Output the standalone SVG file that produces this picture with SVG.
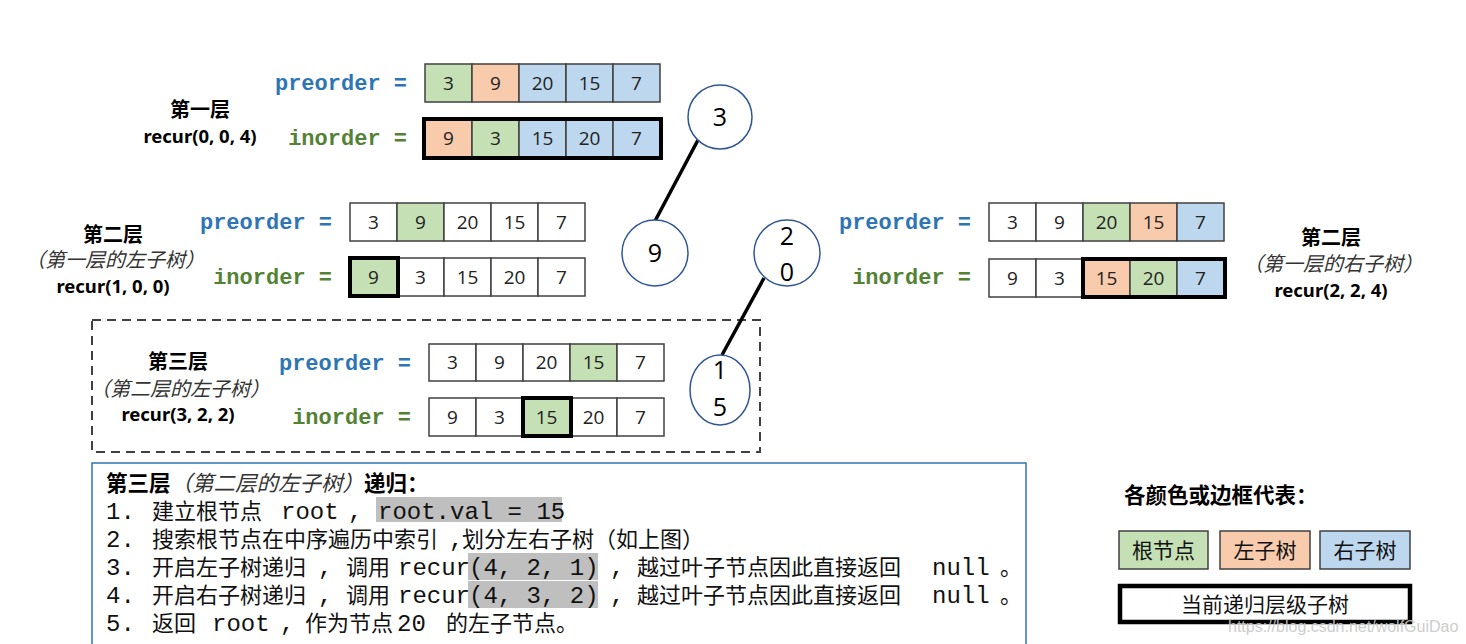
<svg xmlns="http://www.w3.org/2000/svg" width="1466" height="644" viewBox="0 0 1466 644">
<style>
.c{stroke:#404040;stroke-width:1.5}
.g{fill:#c5e0b4}.o{fill:#f8cbad}.b{fill:#bdd7ee}.w{fill:#ffffff}
.cv{font-family:"Open Sans","Noto Sans",sans-serif;font-size:19px;fill:#222;text-anchor:middle}
.thick{fill:none;stroke:#000;stroke-width:4}
.pre{font-family:"Liberation Mono",monospace;font-weight:bold;font-size:22px;fill:#2e75b6;text-anchor:end}
.ino{font-family:"Liberation Mono",monospace;font-weight:bold;font-size:22px;fill:#548235;text-anchor:end}
.lvl{font-family:"Noto Sans CJK SC",sans-serif;font-weight:bold;font-size:20px;fill:#000;text-anchor:middle}
.sub{font-family:"Noto Sans CJK SC",sans-serif;font-style:italic;font-size:20px;fill:#333;text-anchor:middle}
.rec{font-family:"Noto Sans","Noto Sans CJK SC",sans-serif;font-weight:bold;font-size:18.5px;fill:#000;text-anchor:middle}
.node{fill:#fff;stroke:#2f5597;stroke-width:1.5}
.nt{font-family:"Open Sans","Noto Sans",sans-serif;font-size:25px;fill:#000;text-anchor:middle}
.edge{stroke:#000;stroke-width:3.5;fill:none}
.mono{font-family:"Liberation Mono","Noto Sans CJK SC",monospace;font-size:24px;fill:#111}
.cj{font-family:"Noto Sans CJK SC",sans-serif;font-size:22px}
.hl{fill:#bfbfbf}
.leg{font-family:"Noto Sans CJK SC",sans-serif;font-size:21px;fill:#111;text-anchor:middle}
</style>

<!-- Layer 1 -->
<g id="layer1">
<text class="pre" x="407" y="90">preorder =</text>
<text class="ino" x="407" y="145">inorder =</text>
<text class="lvl" x="200" y="117">第一层</text>
<text class="rec" x="200" y="143">recur(0, 0, 4)</text>
<rect class="c g" x="425" y="64" width="47" height="38"/><rect class="c o" x="472" y="64" width="47" height="38"/><rect class="c b" x="519" y="64" width="47" height="38"/><rect class="c b" x="566" y="64" width="47" height="38"/><rect class="c b" x="613" y="64" width="47" height="38"/>
<text class="cv" x="448.5" y="90">3</text><text class="cv" x="495.5" y="90">9</text><text class="cv" x="542.5" y="90">20</text><text class="cv" x="589.5" y="90">15</text><text class="cv" x="636.5" y="90">7</text>
<rect class="c o" x="425" y="120" width="47" height="37"/><rect class="c g" x="472" y="120" width="47" height="37"/><rect class="c b" x="519" y="120" width="47" height="37"/><rect class="c b" x="566" y="120" width="47" height="37"/><rect class="c b" x="613" y="120" width="47" height="37"/>
<text class="cv" x="448.5" y="145">9</text><text class="cv" x="495.5" y="145">3</text><text class="cv" x="542.5" y="145">15</text><text class="cv" x="589.5" y="145">20</text><text class="cv" x="636.5" y="145">7</text>
<rect class="thick" x="424" y="119" width="237" height="39"/>
</g>

<!-- Layer 2 left -->
<g id="layer2-left">
<text class="pre" x="332" y="229">preorder =</text>
<text class="ino" x="332" y="284">inorder =</text>
<text class="lvl" x="113" y="242">第二层</text>
<text class="sub" x="115" y="267">（第一层的左子树）</text>
<text class="rec" x="113" y="293">recur(1, 0, 0)</text>
<rect class="c w" x="350" y="203" width="47" height="38"/><rect class="c g" x="397" y="203" width="47" height="38"/><rect class="c w" x="444" y="203" width="47" height="38"/><rect class="c w" x="491" y="203" width="47" height="38"/><rect class="c w" x="538" y="203" width="47" height="38"/>
<text class="cv" x="373.5" y="229">3</text><text class="cv" x="420.5" y="229">9</text><text class="cv" x="467.5" y="229">20</text><text class="cv" x="514.5" y="229">15</text><text class="cv" x="561.5" y="229">7</text>
<rect class="c g" x="350" y="258" width="47" height="38"/><rect class="c w" x="397" y="258" width="47" height="38"/><rect class="c w" x="444" y="258" width="47" height="38"/><rect class="c w" x="491" y="258" width="47" height="38"/><rect class="c w" x="538" y="258" width="47" height="38"/>
<text class="cv" x="373.5" y="284">9</text><text class="cv" x="420.5" y="284">3</text><text class="cv" x="467.5" y="284">15</text><text class="cv" x="514.5" y="284">20</text><text class="cv" x="561.5" y="284">7</text>
<rect class="thick" x="350" y="258" width="48" height="38"/>
</g>

<!-- Layer 2 right -->
<g id="layer2-right">
<text class="pre" x="971" y="229">preorder =</text>
<text class="ino" x="971" y="284">inorder =</text>
<text class="lvl" x="1331" y="245">第二层</text>
<text class="sub" x="1333" y="271">（第一层的右子树）</text>
<text class="rec" x="1331" y="297">recur(2, 2, 4)</text>
<rect class="c w" x="989" y="203" width="47" height="38"/><rect class="c w" x="1036" y="203" width="47" height="38"/><rect class="c g" x="1083" y="203" width="47" height="38"/><rect class="c o" x="1130" y="203" width="47" height="38"/><rect class="c b" x="1177" y="203" width="47" height="38"/>
<text class="cv" x="1012.5" y="229">3</text><text class="cv" x="1059.5" y="229">9</text><text class="cv" x="1106.5" y="229">20</text><text class="cv" x="1153.5" y="229">15</text><text class="cv" x="1200.5" y="229">7</text>
<rect class="c w" x="989" y="259" width="47" height="38"/><rect class="c w" x="1036" y="259" width="47" height="38"/><rect class="c o" x="1083" y="259" width="47" height="38"/><rect class="c g" x="1130" y="259" width="47" height="38"/><rect class="c b" x="1177" y="259" width="47" height="38"/>
<text class="cv" x="1012.5" y="285">9</text><text class="cv" x="1059.5" y="285">3</text><text class="cv" x="1106.5" y="285">15</text><text class="cv" x="1153.5" y="285">20</text><text class="cv" x="1200.5" y="285">7</text>
<rect class="thick" x="1083" y="259" width="142" height="38"/>
</g>

<!-- Layer 3 -->
<g id="layer3">
<rect x="92" y="320" width="668" height="132" fill="none" stroke="#404040" stroke-width="2" stroke-dasharray="9 6"/>
<text class="pre" x="411" y="370">preorder =</text>
<text class="ino" x="411" y="424">inorder =</text>
<text class="lvl" x="178" y="369">第三层</text>
<text class="sub" x="180" y="396">（第二层的左子树）</text>
<text class="rec" x="178" y="421">recur(3, 2, 2)</text>
<rect class="c w" x="429" y="344" width="47" height="37"/><rect class="c w" x="476" y="344" width="47" height="37"/><rect class="c w" x="523" y="344" width="47" height="37"/><rect class="c g" x="570" y="344" width="47" height="37"/><rect class="c w" x="617" y="344" width="47" height="37"/>
<text class="cv" x="452.5" y="369">3</text><text class="cv" x="499.5" y="369">9</text><text class="cv" x="546.5" y="369">20</text><text class="cv" x="593.5" y="369">15</text><text class="cv" x="640.5" y="369">7</text>
<rect class="c w" x="429" y="398" width="47" height="38"/><rect class="c w" x="476" y="398" width="47" height="38"/><rect class="c g" x="523" y="398" width="47" height="38"/><rect class="c w" x="570" y="398" width="47" height="38"/><rect class="c w" x="617" y="398" width="47" height="38"/>
<text class="cv" x="452.5" y="424">9</text><text class="cv" x="499.5" y="424">3</text><text class="cv" x="546.5" y="424">15</text><text class="cv" x="593.5" y="424">20</text><text class="cv" x="640.5" y="424">7</text>
<rect class="thick" x="523" y="398" width="48" height="38"/>
</g>

<!-- Connectors -->
<g id="connectors">
<line class="edge" x1="698" y1="140" x2="655" y2="221"/>
<line class="edge" x1="764" y1="278" x2="722" y2="355"/>
</g>

<!-- Tree nodes -->
<g id="node-3"><circle class="node" cx="720" cy="117" r="32"/><text class="nt" x="720" y="126">3</text></g>
<g id="node-9"><circle class="node" cx="655" cy="253" r="33"/><text class="nt" x="655" y="262">9</text></g>
<g id="node-20"><circle class="node" cx="787" cy="253" r="33"/><text class="nt" x="787" y="245">2</text><text class="nt" x="787" y="281">0</text></g>
<g id="node-15"><ellipse class="node" cx="720" cy="390" rx="30" ry="35"/><text class="nt" x="720" y="379">1</text><text class="nt" x="720" y="416">5</text></g>

<!-- Explanation box -->
<g id="explanation">
<rect x="92" y="463" width="934" height="190" fill="#fff" stroke="#2e75b6" stroke-width="1.5"/>
<text x="106" y="491" font-family="Noto Sans CJK SC, sans-serif" font-size="21.5" fill="#000"><tspan font-weight="bold">第三层</tspan><tspan font-style="italic" fill="#333">（第二层的左子树）</tspan><tspan font-weight="bold">递归：</tspan></text>
<rect class="hl" x="376" y="497" width="186" height="25"/>
<rect class="hl" x="468" y="553" width="130" height="27"/>
<rect class="hl" x="468" y="581" width="130" height="27"/>
<text class="mono" y="519"><tspan x="106">1.</tspan><tspan class="cj" x="152">建立根节点</tspan><tspan x="281">root</tspan><tspan x="348">,</tspan><tspan x="378">root.val = 15</tspan></text>
<text class="mono" y="547"><tspan x="106">2.</tspan><tspan class="cj" x="152">搜索根节点在中序遍历中索引</tspan><tspan x="449">,</tspan><tspan class="cj" x="462">划分左右子树（如上图）</tspan></text>
<text class="mono" y="575"><tspan x="106">3.</tspan><tspan class="cj" x="152">开启左子树递归</tspan><tspan x="318">,</tspan><tspan class="cj" x="346">调用</tspan><tspan x="398">recur</tspan><tspan x="469">(4, 2, 1)</tspan><tspan x="610">,</tspan><tspan class="cj" x="637">越过叶子节点因此直接返回</tspan><tspan x="932">null</tspan><tspan class="cj" x="1000">。</tspan></text>
<text class="mono" y="603"><tspan x="106">4.</tspan><tspan class="cj" x="152">开启右子树递归</tspan><tspan x="318">,</tspan><tspan class="cj" x="346">调用</tspan><tspan x="398">recur</tspan><tspan x="469">(4, 3, 2)</tspan><tspan x="610">,</tspan><tspan class="cj" x="637">越过叶子节点因此直接返回</tspan><tspan x="932">null</tspan><tspan class="cj" x="1000">。</tspan></text>
<text class="mono" y="631"><tspan x="106">5.</tspan><tspan class="cj" x="152">返回</tspan><tspan x="212">root</tspan><tspan x="280">,</tspan><tspan class="cj" x="305">作为节点</tspan><tspan x="397">20</tspan><tspan class="cj" x="446">的左子节点。</tspan></text>
</g>

<!-- Legend -->
<g id="legend">
<text x="1124" y="503" font-family="Noto Sans CJK SC, sans-serif" font-weight="bold" font-size="21.5" fill="#000">各颜色或边框代表：</text>
<rect class="c g" x="1119" y="531" width="89" height="38"/><text class="leg" x="1163.5" y="558">根节点</text>
<rect class="c o" x="1220" y="531" width="90" height="38"/><text class="leg" x="1265" y="558">左子树</text>
<rect class="c b" x="1320" y="531" width="90" height="38"/><text class="leg" x="1365" y="558">右子树</text>
<rect x="1120" y="586" width="290" height="36" fill="#fff" stroke="#000" stroke-width="4.5"/><text class="leg" x="1265" y="612">当前递归层级子树</text>
</g>
<text x="1228" y="632" font-family="Liberation Sans, sans-serif" font-size="16" fill="#c8c8c8" opacity="0.9">https://blog.csdn.net/wolfGuiDao</text>
</svg>
